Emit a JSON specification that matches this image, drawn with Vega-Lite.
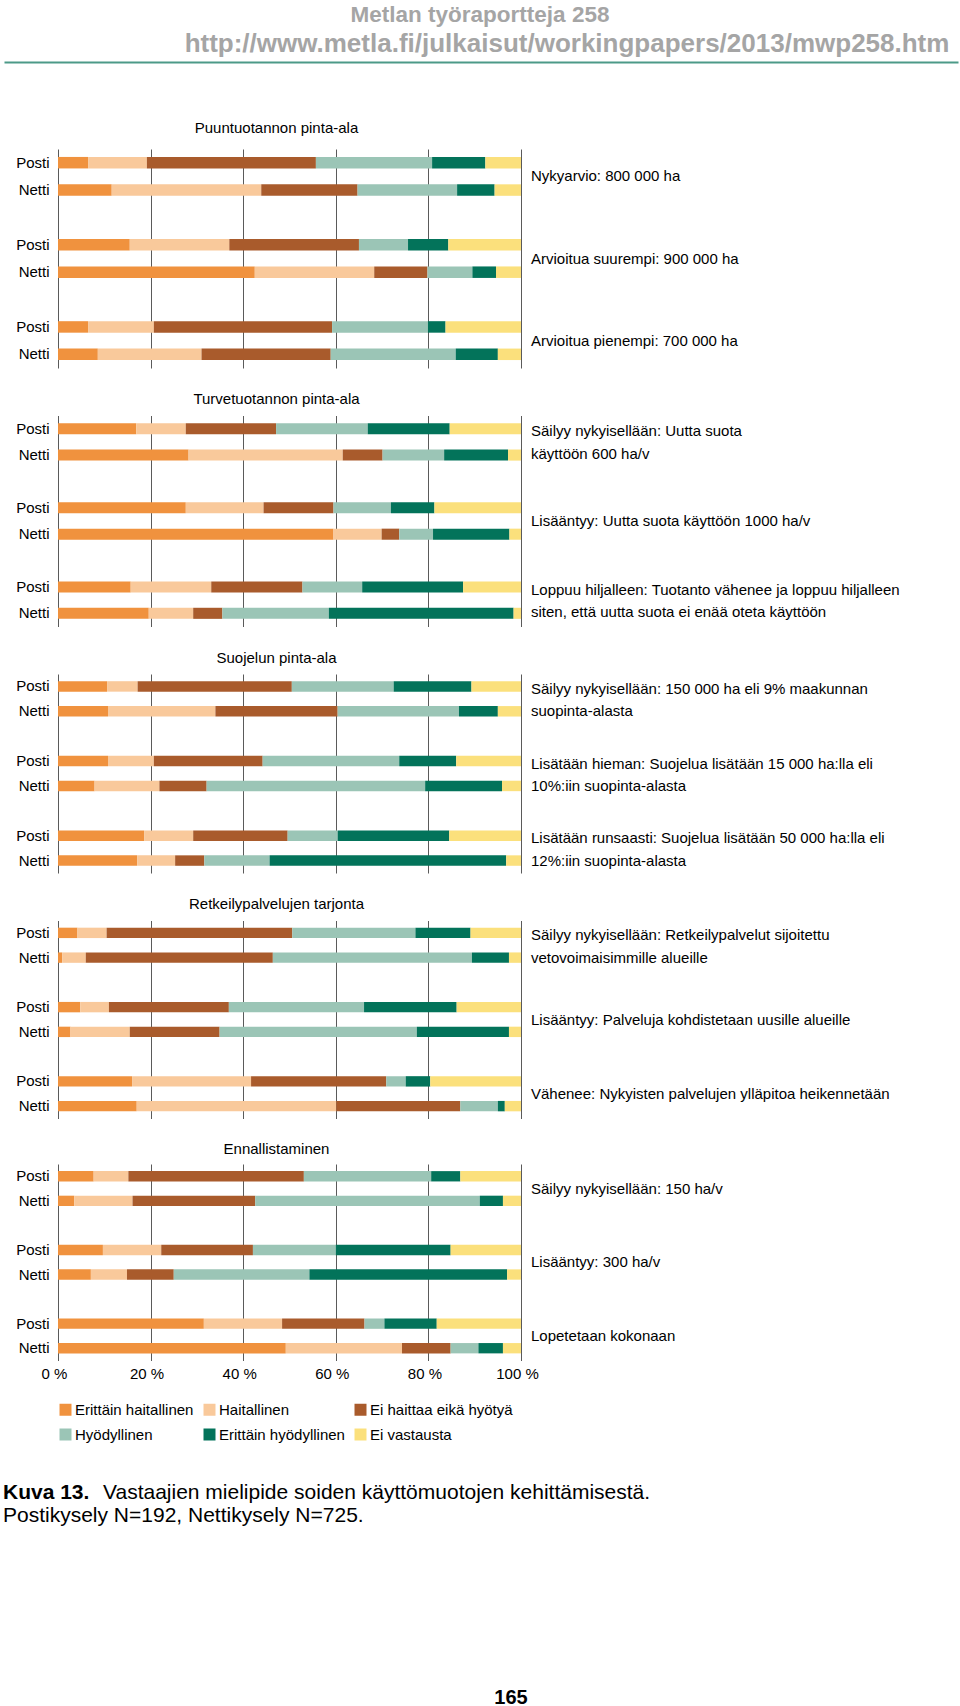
{
  "$schema": "https://vega.github.io/schema/vega-lite/v6.json",
  "background": "white",
  "padding": {"left": 2, "top": 3, "right": 0, "bottom": 0},
  "title": {"text": "Metlan työraportteja 258", "anchor": "middle", "dx": -27, "fontSize": 22.5, "fontWeight": "bold", "color": "#a5a5a5", "offset": 5},
  "datasets": {
    "bars": [
      {"sec": "Puuntuotannon pinta-ala", "row": "A1|Posti", "note": "Nykyarvio: 800 000 ha", "1 Erittäin haitallinen": 6.5, "2 Haitallinen": 12.7, "3 Ei haittaa eikä hyötyä": 36.5, "4 Hyödyllinen": 25.1, "5 Erittäin hyödyllinen": 11.5, "6 Ei vastausta": 7.7},
      {"sec": "Puuntuotannon pinta-ala", "row": "A1|Netti", "1 Erittäin haitallinen": 11.6, "2 Haitallinen": 32.3, "3 Ei haittaa eikä hyötyä": 20.8, "4 Hyödyllinen": 21.5, "5 Erittäin hyödyllinen": 8.1, "6 Ei vastausta": 5.7},
      {"sec": "Puuntuotannon pinta-ala", "row": "A2|Posti", "note": "Arvioitua suurempi:  900 000 ha", "1 Erittäin haitallinen": 15.5, "2 Haitallinen": 21.5, "3 Ei haittaa eikä hyötyä": 28.0, "4 Hyödyllinen": 10.6, "5 Erittäin hyödyllinen": 8.7, "6 Ei vastausta": 15.7},
      {"sec": "Puuntuotannon pinta-ala", "row": "A2|Netti", "1 Erittäin haitallinen": 42.5, "2 Haitallinen": 25.8, "3 Ei haittaa eikä hyötyä": 11.5, "4 Hyödyllinen": 9.7, "5 Erittäin hyödyllinen": 5.1, "6 Ei vastausta": 5.4},
      {"sec": "Puuntuotannon pinta-ala", "row": "A3|Posti", "note": "Arvioitua pienempi: 700 000 ha", "1 Erittäin haitallinen": 6.5, "2 Haitallinen": 14.2, "3 Ei haittaa eikä hyötyä": 38.5, "4 Hyödyllinen": 20.7, "5 Erittäin hyödyllinen": 3.8, "6 Ei vastausta": 16.3},
      {"sec": "Puuntuotannon pinta-ala", "row": "A3|Netti", "1 Erittäin haitallinen": 8.6, "2 Haitallinen": 22.4, "3 Ei haittaa eikä hyötyä": 27.9, "4 Hyödyllinen": 27.0, "5 Erittäin hyödyllinen": 9.1, "6 Ei vastausta": 5.0},
      {"sec": "Turvetuotannon pinta-ala", "row": "B1|Posti", "note": "Säilyy nykyisellään: Uutta suota|käyttöön 600 ha/v", "1 Erittäin haitallinen": 16.9, "2 Haitallinen": 10.7, "3 Ei haittaa eikä hyötyä": 19.5, "4 Hyödyllinen": 19.8, "5 Erittäin hyödyllinen": 17.7, "6 Ei vastausta": 15.4},
      {"sec": "Turvetuotannon pinta-ala", "row": "B1|Netti", "1 Erittäin haitallinen": 28.2, "2 Haitallinen": 33.3, "3 Ei haittaa eikä hyötyä": 8.6, "4 Hyödyllinen": 13.3, "5 Erittäin hyödyllinen": 13.8, "6 Ei vastausta": 2.8},
      {"sec": "Turvetuotannon pinta-ala", "row": "B2|Posti", "note": "Lisääntyy: Uutta suota käyttöön 1000 ha/v", "1 Erittäin haitallinen": 27.6, "2 Haitallinen": 16.8, "3 Ei haittaa eikä hyötyä": 15.1, "4 Hyödyllinen": 12.4, "5 Erittäin hyödyllinen": 9.4, "6 Ei vastausta": 18.7},
      {"sec": "Turvetuotannon pinta-ala", "row": "B2|Netti", "1 Erittäin haitallinen": 59.5, "2 Haitallinen": 10.4, "3 Ei haittaa eikä hyötyä": 3.8, "4 Hyödyllinen": 7.3, "5 Erittäin hyödyllinen": 16.5, "6 Ei vastausta": 2.5},
      {"sec": "Turvetuotannon pinta-ala", "row": "B3|Posti", "note": "Loppuu hiljalleen: Tuotanto vähenee ja loppuu hiljalleen|siten, että uutta suota ei enää oteta käyttöön", "1 Erittäin haitallinen": 15.7, "2 Haitallinen": 17.4, "3 Ei haittaa eikä hyötyä": 19.7, "4 Hyödyllinen": 12.9, "5 Erittäin hyödyllinen": 21.8, "6 Ei vastausta": 12.5},
      {"sec": "Turvetuotannon pinta-ala", "row": "B3|Netti", "1 Erittäin haitallinen": 19.6, "2 Haitallinen": 9.6, "3 Ei haittaa eikä hyötyä": 6.3, "4 Hyödyllinen": 23.0, "5 Erittäin hyödyllinen": 39.9, "6 Ei vastausta": 1.6},
      {"sec": "Suojelun pinta-ala", "row": "C1|Posti", "note": "Säilyy nykyisellään: 150 000 ha eli 9% maakunnan|suopinta-alasta", "1 Erittäin haitallinen": 10.6, "2 Haitallinen": 6.6, "3 Ei haittaa eikä hyötyä": 33.3, "4 Hyödyllinen": 22.0, "5 Erittäin hyödyllinen": 16.8, "6 Ei vastausta": 10.7},
      {"sec": "Suojelun pinta-ala", "row": "C1|Netti", "1 Erittäin haitallinen": 10.8, "2 Haitallinen": 23.2, "3 Ei haittaa eikä hyötyä": 26.4, "4 Hyödyllinen": 26.2, "5 Erittäin hyödyllinen": 8.4, "6 Ei vastausta": 5.0},
      {"sec": "Suojelun pinta-ala", "row": "C2|Posti", "note": "Lisätään hieman: Suojelua lisätään 15 000 ha:lla eli|10%:iin suopinta-alasta", "1 Erittäin haitallinen": 10.8, "2 Haitallinen": 9.9, "3 Ei haittaa eikä hyötyä": 23.5, "4 Hyödyllinen": 29.5, "5 Erittäin hyödyllinen": 12.3, "6 Ei vastausta": 14.0},
      {"sec": "Suojelun pinta-ala", "row": "C2|Netti", "1 Erittäin haitallinen": 7.9, "2 Haitallinen": 14.0, "3 Ei haittaa eikä hyötyä": 10.2, "4 Hyödyllinen": 47.2, "5 Erittäin hyödyllinen": 16.6, "6 Ei vastausta": 4.1},
      {"sec": "Suojelun pinta-ala", "row": "C3|Posti", "note": "Lisätään runsaasti: Suojelua lisätään 50 000 ha:lla eli|12%:iin suopinta-alasta", "1 Erittäin haitallinen": 18.6, "2 Haitallinen": 10.6, "3 Ei haittaa eikä hyötyä": 20.4, "4 Hyödyllinen": 10.8, "5 Erittäin hyödyllinen": 24.1, "6 Ei vastausta": 15.5},
      {"sec": "Suojelun pinta-ala", "row": "C3|Netti", "1 Erittäin haitallinen": 17.1, "2 Haitallinen": 8.2, "3 Ei haittaa eikä hyötyä": 6.3, "4 Hyödyllinen": 14.1, "5 Erittäin hyödyllinen": 51.1, "6 Ei vastausta": 3.2},
      {"sec": "Retkeilypalvelujen tarjonta", "row": "D1|Posti", "note": "Säilyy nykyisellään: Retkeilypalvelut sijoitettu|vetovoimaisimmille alueille", "1 Erittäin haitallinen": 4.2, "2 Haitallinen": 6.3, "3 Ei haittaa eikä hyötyä": 40.1, "4 Hyödyllinen": 26.6, "5 Erittäin hyödyllinen": 11.9, "6 Ei vastausta": 10.9},
      {"sec": "Retkeilypalvelujen tarjonta", "row": "D1|Netti", "1 Erittäin haitallinen": 0.9, "2 Haitallinen": 5.1, "3 Ei haittaa eikä hyötyä": 40.4, "4 Hyödyllinen": 43.0, "5 Erittäin hyödyllinen": 8.0, "6 Ei vastausta": 2.6},
      {"sec": "Retkeilypalvelujen tarjonta", "row": "D2|Posti", "note": "Lisääntyy: Palveluja kohdistetaan uusille alueille", "1 Erittäin haitallinen": 4.8, "2 Haitallinen": 6.2, "3 Ei haittaa eikä hyötyä": 25.9, "4 Hyödyllinen": 29.2, "5 Erittäin hyödyllinen": 20.0, "6 Ei vastausta": 13.9},
      {"sec": "Retkeilypalvelujen tarjonta", "row": "D2|Netti", "1 Erittäin haitallinen": 2.7, "2 Haitallinen": 12.8, "3 Ei haittaa eikä hyötyä": 19.4, "4 Hyödyllinen": 42.6, "5 Erittäin hyödyllinen": 19.9, "6 Ei vastausta": 2.6},
      {"sec": "Retkeilypalvelujen tarjonta", "row": "D3|Posti", "note": "Vähenee: Nykyisten palvelujen ylläpitoa heikennetään", "1 Erittäin haitallinen": 16.0, "2 Haitallinen": 25.7, "3 Ei haittaa eikä hyötyä": 29.2, "4 Hyödyllinen": 4.2, "5 Erittäin hyödyllinen": 5.3, "6 Ei vastausta": 19.6},
      {"sec": "Retkeilypalvelujen tarjonta", "row": "D3|Netti", "1 Erittäin haitallinen": 17.0, "2 Haitallinen": 43.1, "3 Ei haittaa eikä hyötyä": 26.8, "4 Hyödyllinen": 8.1, "5 Erittäin hyödyllinen": 1.5, "6 Ei vastausta": 3.5},
      {"sec": "Ennallistaminen", "row": "E1|Posti", "note": "Säilyy nykyisellään: 150 ha/v", "1 Erittäin haitallinen": 7.7, "2 Haitallinen": 7.5, "3 Ei haittaa eikä hyötyä": 37.9, "4 Hyödyllinen": 27.5, "5 Erittäin hyödyllinen": 6.3, "6 Ei vastausta": 13.1},
      {"sec": "Ennallistaminen", "row": "E1|Netti", "1 Erittäin haitallinen": 3.5, "2 Haitallinen": 12.6, "3 Ei haittaa eikä hyötyä": 26.5, "4 Hyödyllinen": 48.5, "5 Erittäin hyödyllinen": 5.0, "6 Ei vastausta": 3.9},
      {"sec": "Ennallistaminen", "row": "E2|Posti", "note": "Lisääntyy: 300 ha/v", "1 Erittäin haitallinen": 9.7, "2 Haitallinen": 12.6, "3 Ei haittaa eikä hyötyä": 19.8, "4 Hyödyllinen": 17.9, "5 Erittäin hyödyllinen": 24.8, "6 Ei vastausta": 15.2},
      {"sec": "Ennallistaminen", "row": "E2|Netti", "1 Erittäin haitallinen": 7.1, "2 Haitallinen": 7.8, "3 Ei haittaa eikä hyötyä": 10.1, "4 Hyödyllinen": 29.3, "5 Erittäin hyödyllinen": 42.7, "6 Ei vastausta": 3.0},
      {"sec": "Ennallistaminen", "row": "E3|Posti", "note": "Lopetetaan kokonaan", "1 Erittäin haitallinen": 31.5, "2 Haitallinen": 16.9, "3 Ei haittaa eikä hyötyä": 17.8, "4 Hyödyllinen": 4.3, "5 Erittäin hyödyllinen": 11.3, "6 Ei vastausta": 18.2},
      {"sec": "Ennallistaminen", "row": "E3|Netti", "1 Erittäin haitallinen": 49.2, "2 Haitallinen": 25.1, "3 Ei haittaa eikä hyötyä": 10.5, "4 Hyödyllinen": 6.0, "5 Erittäin hyödyllinen": 5.3, "6 Ei vastausta": 3.9}
    ]
  },
  "concat": [
    {
      "width": 900,
      "height": 20,
      "title": {"text": "http://www.metla.fi/julkaisut/workingpapers/2013/mwp258.htm", "anchor": "middle", "frame": "group", "dx": 59, "fontSize": 26, "fontWeight": "bold", "color": "#a5a5a5", "offset": 5},
      "data": {"values": [{"v": 0.5}]},
      "mark": {"type": "point", "opacity": 0},
      "encoding": {
        "x": {"field": "v", "type": "quantitative", "scale": {"domain": [0, 1], "range": [-54, 900]}, "axis": {"orient": "top", "domainColor": "#4c9a88", "domainWidth": 2, "labels": false, "ticks": false, "grid": false, "title": null}}
      }
    },
    {
      "vconcat": [
        {
          "width": 463, "height": 219,
          "title": {"text": "Puuntuotannon pinta-ala", "anchor": "middle", "frame": "group", "dx": -13, "fontSize": 15, "fontWeight": "normal", "offset": 13.5, "color": "black"},
          "data": {"name": "bars"},
          "transform": [{"filter": "datum.sec === 'Puuntuotannon pinta-ala'"}],
          "layer": [
            {
              "transform": [{"fold": ["1 Erittäin haitallinen", "2 Haitallinen", "3 Ei haittaa eikä hyötyä", "4 Hyödyllinen", "5 Erittäin hyödyllinen", "6 Ei vastausta"], "as": ["cat", "pct"]}],
              "mark": {"type": "bar", "height": {"band": 0.42}},
              "encoding": {
                "y": {"field": "row", "type": "nominal", "scale": {"domain": ["A1|Posti", "A1|Netti", "A1|", "A2|Posti", "A2|Netti", "A2|", "A3|Posti", "A3|Netti"], "paddingInner": 0, "paddingOuter": 0}, "axis": {"title": null, "labelExpr": "split(datum.value, '|')[1]", "ticks": false, "domain": false, "labelPadding": 9, "minExtent": 56}},
                "x": {"field": "pct", "type": "quantitative", "stack": "zero", "scale": {"domain": [0, 100], "nice": false}, "axis": {"title": null, "values": [0, 20, 40, 60, 80, 100], "labels": false, "ticks": false, "domain": false, "grid": true}},
                "color": {"field": "cat", "type": "nominal", "scale": {"domain": ["1 Erittäin haitallinen", "2 Haitallinen", "3 Ei haittaa eikä hyötyä", "4 Hyödyllinen", "5 Erittäin hyödyllinen", "6 Ei vastausta"], "range": ["#f0923e", "#f9c99b", "#a95b2c", "#9bc5b6", "#03735a", "#fbe07c"]}, "legend": null},
                "order": {"field": "cat", "sort": "ascending"}
              }
            },
            {
              "transform": [{"filter": "isValid(datum.note) && indexof(datum.note, '|') < 0"}],
              "mark": {"type": "text", "align": "left", "baseline": "middle", "dx": 10, "fontSize": 15, "color": "black"},
              "encoding": {"y": {"field": "row", "type": "nominal", "bandPosition": 1}, "x": {"datum": 100}, "text": {"field": "note"}}
            },
            {
              "transform": [{"filter": "isValid(datum.note) && indexof(datum.note, '|') >= 0"}],
              "mark": {"type": "text", "align": "left", "baseline": "middle", "dx": 10, "fontSize": 15, "lineBreak": "|", "lineHeight": 22.5, "color": "black"},
              "encoding": {"y": {"field": "row", "type": "nominal", "bandPosition": 0.6}, "x": {"datum": 100}, "text": {"field": "note"}}
            }
          ]
        },
        {
          "width": 463, "height": 211,
          "title": {"text": "Turvetuotannon pinta-ala", "anchor": "middle", "frame": "group", "dx": -13, "fontSize": 15, "fontWeight": "normal", "offset": 8.5, "color": "black"},
          "data": {"name": "bars"},
          "transform": [{"filter": "datum.sec === 'Turvetuotannon pinta-ala'"}],
          "layer": [
            {
              "transform": [{"fold": ["1 Erittäin haitallinen", "2 Haitallinen", "3 Ei haittaa eikä hyötyä", "4 Hyödyllinen", "5 Erittäin hyödyllinen", "6 Ei vastausta"], "as": ["cat", "pct"]}],
              "mark": {"type": "bar", "height": {"band": 0.42}},
              "encoding": {
                "y": {"field": "row", "type": "nominal", "scale": {"domain": ["B1|Posti", "B1|Netti", "B1|", "B2|Posti", "B2|Netti", "B2|", "B3|Posti", "B3|Netti"], "paddingInner": 0, "paddingOuter": 0}, "axis": {"title": null, "labelExpr": "split(datum.value, '|')[1]", "ticks": false, "domain": false, "labelPadding": 9, "minExtent": 56}},
                "x": {"field": "pct", "type": "quantitative", "stack": "zero", "scale": {"domain": [0, 100], "nice": false}, "axis": {"title": null, "values": [0, 20, 40, 60, 80, 100], "labels": false, "ticks": false, "domain": false, "grid": true}},
                "color": {"field": "cat", "type": "nominal", "scale": {"domain": ["1 Erittäin haitallinen", "2 Haitallinen", "3 Ei haittaa eikä hyötyä", "4 Hyödyllinen", "5 Erittäin hyödyllinen", "6 Ei vastausta"], "range": ["#f0923e", "#f9c99b", "#a95b2c", "#9bc5b6", "#03735a", "#fbe07c"]}, "legend": null},
                "order": {"field": "cat", "sort": "ascending"}
              }
            },
            {
              "transform": [{"filter": "isValid(datum.note) && indexof(datum.note, '|') < 0"}],
              "mark": {"type": "text", "align": "left", "baseline": "middle", "dx": 10, "fontSize": 15, "color": "black"},
              "encoding": {"y": {"field": "row", "type": "nominal", "bandPosition": 1}, "x": {"datum": 100}, "text": {"field": "note"}}
            },
            {
              "transform": [{"filter": "isValid(datum.note) && indexof(datum.note, '|') >= 0"}],
              "mark": {"type": "text", "align": "left", "baseline": "middle", "dx": 10, "fontSize": 15, "lineBreak": "|", "lineHeight": 22.5, "color": "black"},
              "encoding": {"y": {"field": "row", "type": "nominal", "bandPosition": 0.6}, "x": {"datum": 100}, "text": {"field": "note"}}
            }
          ]
        },
        {
          "width": 463, "height": 199,
          "title": {"text": "Suojelun pinta-ala", "anchor": "middle", "frame": "group", "dx": -13, "fontSize": 15, "fontWeight": "normal", "offset": 8.5, "color": "black"},
          "data": {"name": "bars"},
          "transform": [{"filter": "datum.sec === 'Suojelun pinta-ala'"}],
          "layer": [
            {
              "transform": [{"fold": ["1 Erittäin haitallinen", "2 Haitallinen", "3 Ei haittaa eikä hyötyä", "4 Hyödyllinen", "5 Erittäin hyödyllinen", "6 Ei vastausta"], "as": ["cat", "pct"]}],
              "mark": {"type": "bar", "height": {"band": 0.42}},
              "encoding": {
                "y": {"field": "row", "type": "nominal", "scale": {"domain": ["C1|Posti", "C1|Netti", "C1|", "C2|Posti", "C2|Netti", "C2|", "C3|Posti", "C3|Netti"], "paddingInner": 0, "paddingOuter": 0}, "axis": {"title": null, "labelExpr": "split(datum.value, '|')[1]", "ticks": false, "domain": false, "labelPadding": 9, "minExtent": 56}},
                "x": {"field": "pct", "type": "quantitative", "stack": "zero", "scale": {"domain": [0, 100], "nice": false}, "axis": {"title": null, "values": [0, 20, 40, 60, 80, 100], "labels": false, "ticks": false, "domain": false, "grid": true}},
                "color": {"field": "cat", "type": "nominal", "scale": {"domain": ["1 Erittäin haitallinen", "2 Haitallinen", "3 Ei haittaa eikä hyötyä", "4 Hyödyllinen", "5 Erittäin hyödyllinen", "6 Ei vastausta"], "range": ["#f0923e", "#f9c99b", "#a95b2c", "#9bc5b6", "#03735a", "#fbe07c"]}, "legend": null},
                "order": {"field": "cat", "sort": "ascending"}
              }
            },
            {
              "transform": [{"filter": "isValid(datum.note) && indexof(datum.note, '|') < 0"}],
              "mark": {"type": "text", "align": "left", "baseline": "middle", "dx": 10, "fontSize": 15, "color": "black"},
              "encoding": {"y": {"field": "row", "type": "nominal", "bandPosition": 1}, "x": {"datum": 100}, "text": {"field": "note"}}
            },
            {
              "transform": [{"filter": "isValid(datum.note) && indexof(datum.note, '|') >= 0"}],
              "mark": {"type": "text", "align": "left", "baseline": "middle", "dx": 10, "fontSize": 15, "lineBreak": "|", "lineHeight": 22.5, "color": "black"},
              "encoding": {"y": {"field": "row", "type": "nominal", "bandPosition": 0.6}, "x": {"datum": 100}, "text": {"field": "note"}}
            }
          ]
        },
        {
          "width": 463, "height": 198,
          "title": {"text": "Retkeilypalvelujen tarjonta", "anchor": "middle", "frame": "group", "dx": -13, "fontSize": 15, "fontWeight": "normal", "offset": 8.5, "color": "black"},
          "data": {"name": "bars"},
          "transform": [{"filter": "datum.sec === 'Retkeilypalvelujen tarjonta'"}],
          "layer": [
            {
              "transform": [{"fold": ["1 Erittäin haitallinen", "2 Haitallinen", "3 Ei haittaa eikä hyötyä", "4 Hyödyllinen", "5 Erittäin hyödyllinen", "6 Ei vastausta"], "as": ["cat", "pct"]}],
              "mark": {"type": "bar", "height": {"band": 0.42}},
              "encoding": {
                "y": {"field": "row", "type": "nominal", "scale": {"domain": ["D1|Posti", "D1|Netti", "D1|", "D2|Posti", "D2|Netti", "D2|", "D3|Posti", "D3|Netti"], "paddingInner": 0, "paddingOuter": 0}, "axis": {"title": null, "labelExpr": "split(datum.value, '|')[1]", "ticks": false, "domain": false, "labelPadding": 9, "minExtent": 56}},
                "x": {"field": "pct", "type": "quantitative", "stack": "zero", "scale": {"domain": [0, 100], "nice": false}, "axis": {"title": null, "values": [0, 20, 40, 60, 80, 100], "labels": false, "ticks": false, "domain": false, "grid": true}},
                "color": {"field": "cat", "type": "nominal", "scale": {"domain": ["1 Erittäin haitallinen", "2 Haitallinen", "3 Ei haittaa eikä hyötyä", "4 Hyödyllinen", "5 Erittäin hyödyllinen", "6 Ei vastausta"], "range": ["#f0923e", "#f9c99b", "#a95b2c", "#9bc5b6", "#03735a", "#fbe07c"]}, "legend": null},
                "order": {"field": "cat", "sort": "ascending"}
              }
            },
            {
              "transform": [{"filter": "isValid(datum.note) && indexof(datum.note, '|') < 0"}],
              "mark": {"type": "text", "align": "left", "baseline": "middle", "dx": 10, "fontSize": 15, "color": "black"},
              "encoding": {"y": {"field": "row", "type": "nominal", "bandPosition": 1}, "x": {"datum": 100}, "text": {"field": "note"}}
            },
            {
              "transform": [{"filter": "isValid(datum.note) && indexof(datum.note, '|') >= 0"}],
              "mark": {"type": "text", "align": "left", "baseline": "middle", "dx": 10, "fontSize": 15, "lineBreak": "|", "lineHeight": 22.5, "color": "black"},
              "encoding": {"y": {"field": "row", "type": "nominal", "bandPosition": 0.6}, "x": {"datum": 100}, "text": {"field": "note"}}
            }
          ]
        },
        {
          "width": 463, "height": 196.5,
          "title": {"text": "Ennallistaminen", "anchor": "middle", "frame": "group", "dx": -13, "fontSize": 15, "fontWeight": "normal", "offset": 7, "color": "black"},
          "data": {"name": "bars"},
          "transform": [{"filter": "datum.sec === 'Ennallistaminen'"}],
          "layer": [
            {
              "transform": [{"fold": ["1 Erittäin haitallinen", "2 Haitallinen", "3 Ei haittaa eikä hyötyä", "4 Hyödyllinen", "5 Erittäin hyödyllinen", "6 Ei vastausta"], "as": ["cat", "pct"]}],
              "mark": {"type": "bar", "height": {"band": 0.42}},
              "encoding": {
                "y": {"field": "row", "type": "nominal", "scale": {"domain": ["E1|Posti", "E1|Netti", "E1|", "E2|Posti", "E2|Netti", "E2|", "E3|Posti", "E3|Netti"], "paddingInner": 0, "paddingOuter": 0}, "axis": {"title": null, "labelExpr": "split(datum.value, '|')[1]", "ticks": false, "domain": false, "labelPadding": 9, "minExtent": 56}},
                "x": {"field": "pct", "type": "quantitative", "stack": "zero", "scale": {"domain": [0, 100], "nice": false}, "axis": {"title": null, "values": [0, 20, 40, 60, 80, 100], "labelExpr": "datum.value + ' %'", "labelFlush": false, "labelOverlap": false, "labelPadding": 6, "labelOffset": -4, "ticks": false, "domain": false, "grid": true}},
                "color": {"field": "cat", "type": "nominal", "scale": {"domain": ["1 Erittäin haitallinen", "2 Haitallinen", "3 Ei haittaa eikä hyötyä", "4 Hyödyllinen", "5 Erittäin hyödyllinen", "6 Ei vastausta"], "range": ["#f0923e", "#f9c99b", "#a95b2c", "#9bc5b6", "#03735a", "#fbe07c"]}, "legend": {"orient": "bottom", "direction": "horizontal", "columns": 3, "title": null, "symbolType": "square", "symbolSize": 144, "symbolStrokeWidth": 0, "symbolOpacity": 1, "labelFontSize": 15, "labelColor": "black", "labelExpr": "slice(datum.label, 2)", "rowPadding": 9, "columnPadding": 8, "labelOffset": 2, "offset": 20, "padding": 0, "labelLimit": 0}},
                "order": {"field": "cat", "sort": "ascending"}
              }
            },
            {
              "transform": [{"filter": "isValid(datum.note) && indexof(datum.note, '|') < 0"}],
              "mark": {"type": "text", "align": "left", "baseline": "middle", "dx": 10, "fontSize": 15, "color": "black"},
              "encoding": {"y": {"field": "row", "type": "nominal", "bandPosition": 1}, "x": {"datum": 100}, "text": {"field": "note"}}
            }
          ]
        }
      ],
      "spacing": 23.5,
      "resolve": {"scale": {"x": "independent", "y": "independent"}, "legend": {"color": "independent"}}
    },
    {
      "width": 1,
      "height": 1,
      "data": {"values": [{"label": "Kuva 13.", "text": "Vastaajien mielipide soiden käyttömuotojen kehittämisestä.", "note": "Postikysely N=192, Nettikysely N=725.", "page": "165"}]},
      "layer": [
        {"mark": {"type": "text", "align": "left", "baseline": "middle", "fontSize": 21, "fontWeight": "bold", "dx": -55.5, "color": "black"}, "encoding": {"text": {"field": "label"}}},
        {"mark": {"type": "text", "align": "left", "baseline": "middle", "fontSize": 21, "dx": 44.5, "color": "black"}, "encoding": {"text": {"field": "text"}}},
        {"mark": {"type": "text", "align": "left", "baseline": "middle", "fontSize": 21, "dx": -55.5, "dy": 23, "color": "black"}, "encoding": {"text": {"field": "note"}}},
        {"mark": {"type": "text", "align": "center", "baseline": "middle", "fontSize": 20, "fontWeight": "bold", "dx": 452.5, "dy": 205, "color": "black"}, "encoding": {"text": {"field": "page"}}}
      ]
    }
  ],
  "columns": 1,
  "align": "none",
  "spacing": 38,
  "resolve": {"scale": {"x": "independent", "y": "independent"}, "legend": {"color": "independent"}},
  "config": {
    "font": "Liberation Sans",
    "view": {"stroke": null},
    "axis": {"labelFont": "Liberation Sans", "labelFontSize": 15, "labelColor": "black", "gridColor": "#5a5a5a", "gridWidth": 1, "gridOpacity": 1},
    "legend": {"labelFont": "Liberation Sans"},
    "title": {"font": "Liberation Sans", "subtitleFont": "Liberation Sans"}
  }
}
